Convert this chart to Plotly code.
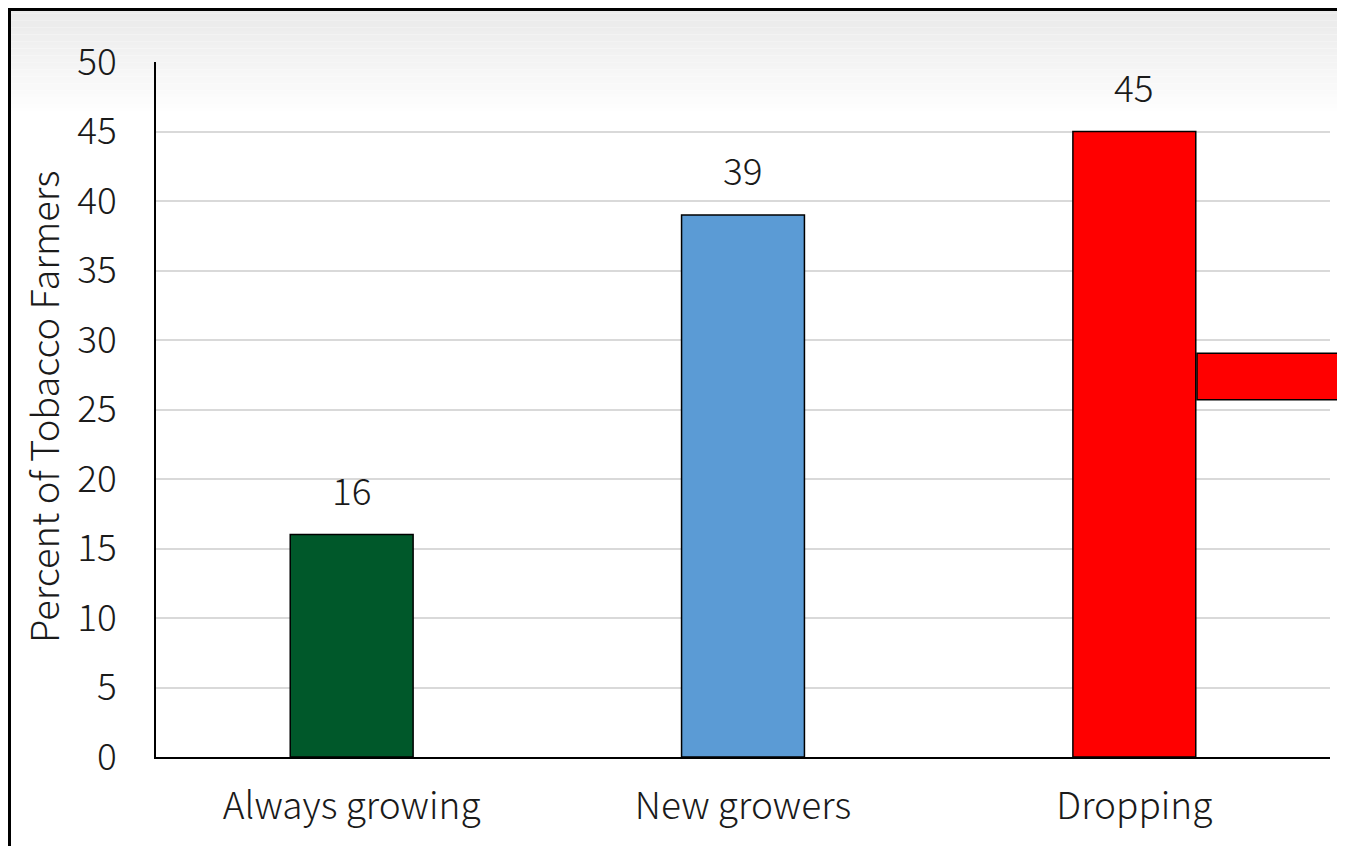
import plotly.graph_objects as go

categories = ["Always growing", "New growers", "Dropping"]
values = [16, 39, 45]
colors = ["#00582A", "#5B9BD5", "#FF0000"]
y_ticks = [0, 5, 10, 15, 20, 25, 30, 35, 40, 45, 50]

OFF = 8  # page body margin
W, H = 1345, 838
L, T = 156 - OFF, 62 - OFF
R = W - (1330 - OFF)
B = H - (757 - OFF)
pw = W - L - R
ph = H - T - B

def px_x(p):
    return (p - OFF - L) / pw

def px_y(p):
    return (H - B - (p - OFF)) / ph

FONT = "Noto Sans CJK JP, Noto Sans, sans-serif"
FS = 37

fig = go.Figure()
fig.add_trace(go.Bar(
    x=categories, y=values, width=0.314,
    marker=dict(color=colors, line=dict(color="#000000", width=1.5)),
    showlegend=False,
))

shapes = []
n = 30
top, bottom = 10, 115
for i in range(n):
    y0 = top + (bottom - top) * i / n
    y1 = top + (bottom - top) * (i + 1) / n
    g = int(234 + (255 - 234) * i / (n - 1))
    shapes.append(dict(type="rect", xref="paper", yref="paper",
                       x0=px_x(0), x1=px_x(1370), y0=px_y(y1), y1=px_y(y0),
                       fillcolor=f"rgb({g},{g},{g})", line=dict(width=0), layer="below"))
shapes.append(dict(type="rect", xref="paper", yref="paper",
                   x0=px_x(0), x1=px_x(11), y0=px_y(870), y1=px_y(0),
                   fillcolor="#000", line=dict(width=0)))
shapes.append(dict(type="rect", xref="paper", yref="paper",
                   x0=px_x(0), x1=px_x(1370), y0=px_y(11), y1=px_y(0),
                   fillcolor="#000", line=dict(width=0)))
shapes.append(dict(type="rect", xref="paper", yref="paper",
                   x0=px_x(1197), x1=px_x(1380), y0=25.7 / 50, y1=29.05 / 50,
                   fillcolor="#FF0000", line=dict(color="#000", width=1.5)))

tf = dict(family=FONT, size=FS, color="#1a1a1a", weight=300)
annotations = []
for c, v in zip(categories, values):
    annotations.append(dict(x=c, y=v, xref="x", yref="y", text=str(v), showarrow=False,
                            yanchor="middle", yshift=46, font=tf))
annotations.append(dict(x=px_x(42), y=px_y(407), xref="paper", yref="paper",
                        text="Percent of Tobacco Farmers", textangle=-90, showarrow=False,
                        xanchor="center", yanchor="middle",
                        font=dict(family=FONT, size=38, color="#1a1a1a", weight=300)))

fig.update_layout(
    width=W, height=H,
    margin=dict(l=L, r=R, t=T, b=B, pad=0),
    paper_bgcolor="white", plot_bgcolor="rgba(0,0,0,0)",
    font=tf,
    shapes=shapes, annotations=annotations,
)
fig.update_xaxes(showline=True, linecolor="#000", linewidth=1.5, showgrid=False,
                 ticks="", ticklabelstandoff=16, tickfont=tf)
fig.update_yaxes(range=[0, 50], tickvals=y_ticks, showline=True, linecolor="#000",
                 linewidth=1.5, showgrid=True, gridcolor="#d9d9d9", gridwidth=1.5,
                 zeroline=False, ticks="", ticklabelstandoff=30, tickfont=tf)

fig.write_html("out.html")
